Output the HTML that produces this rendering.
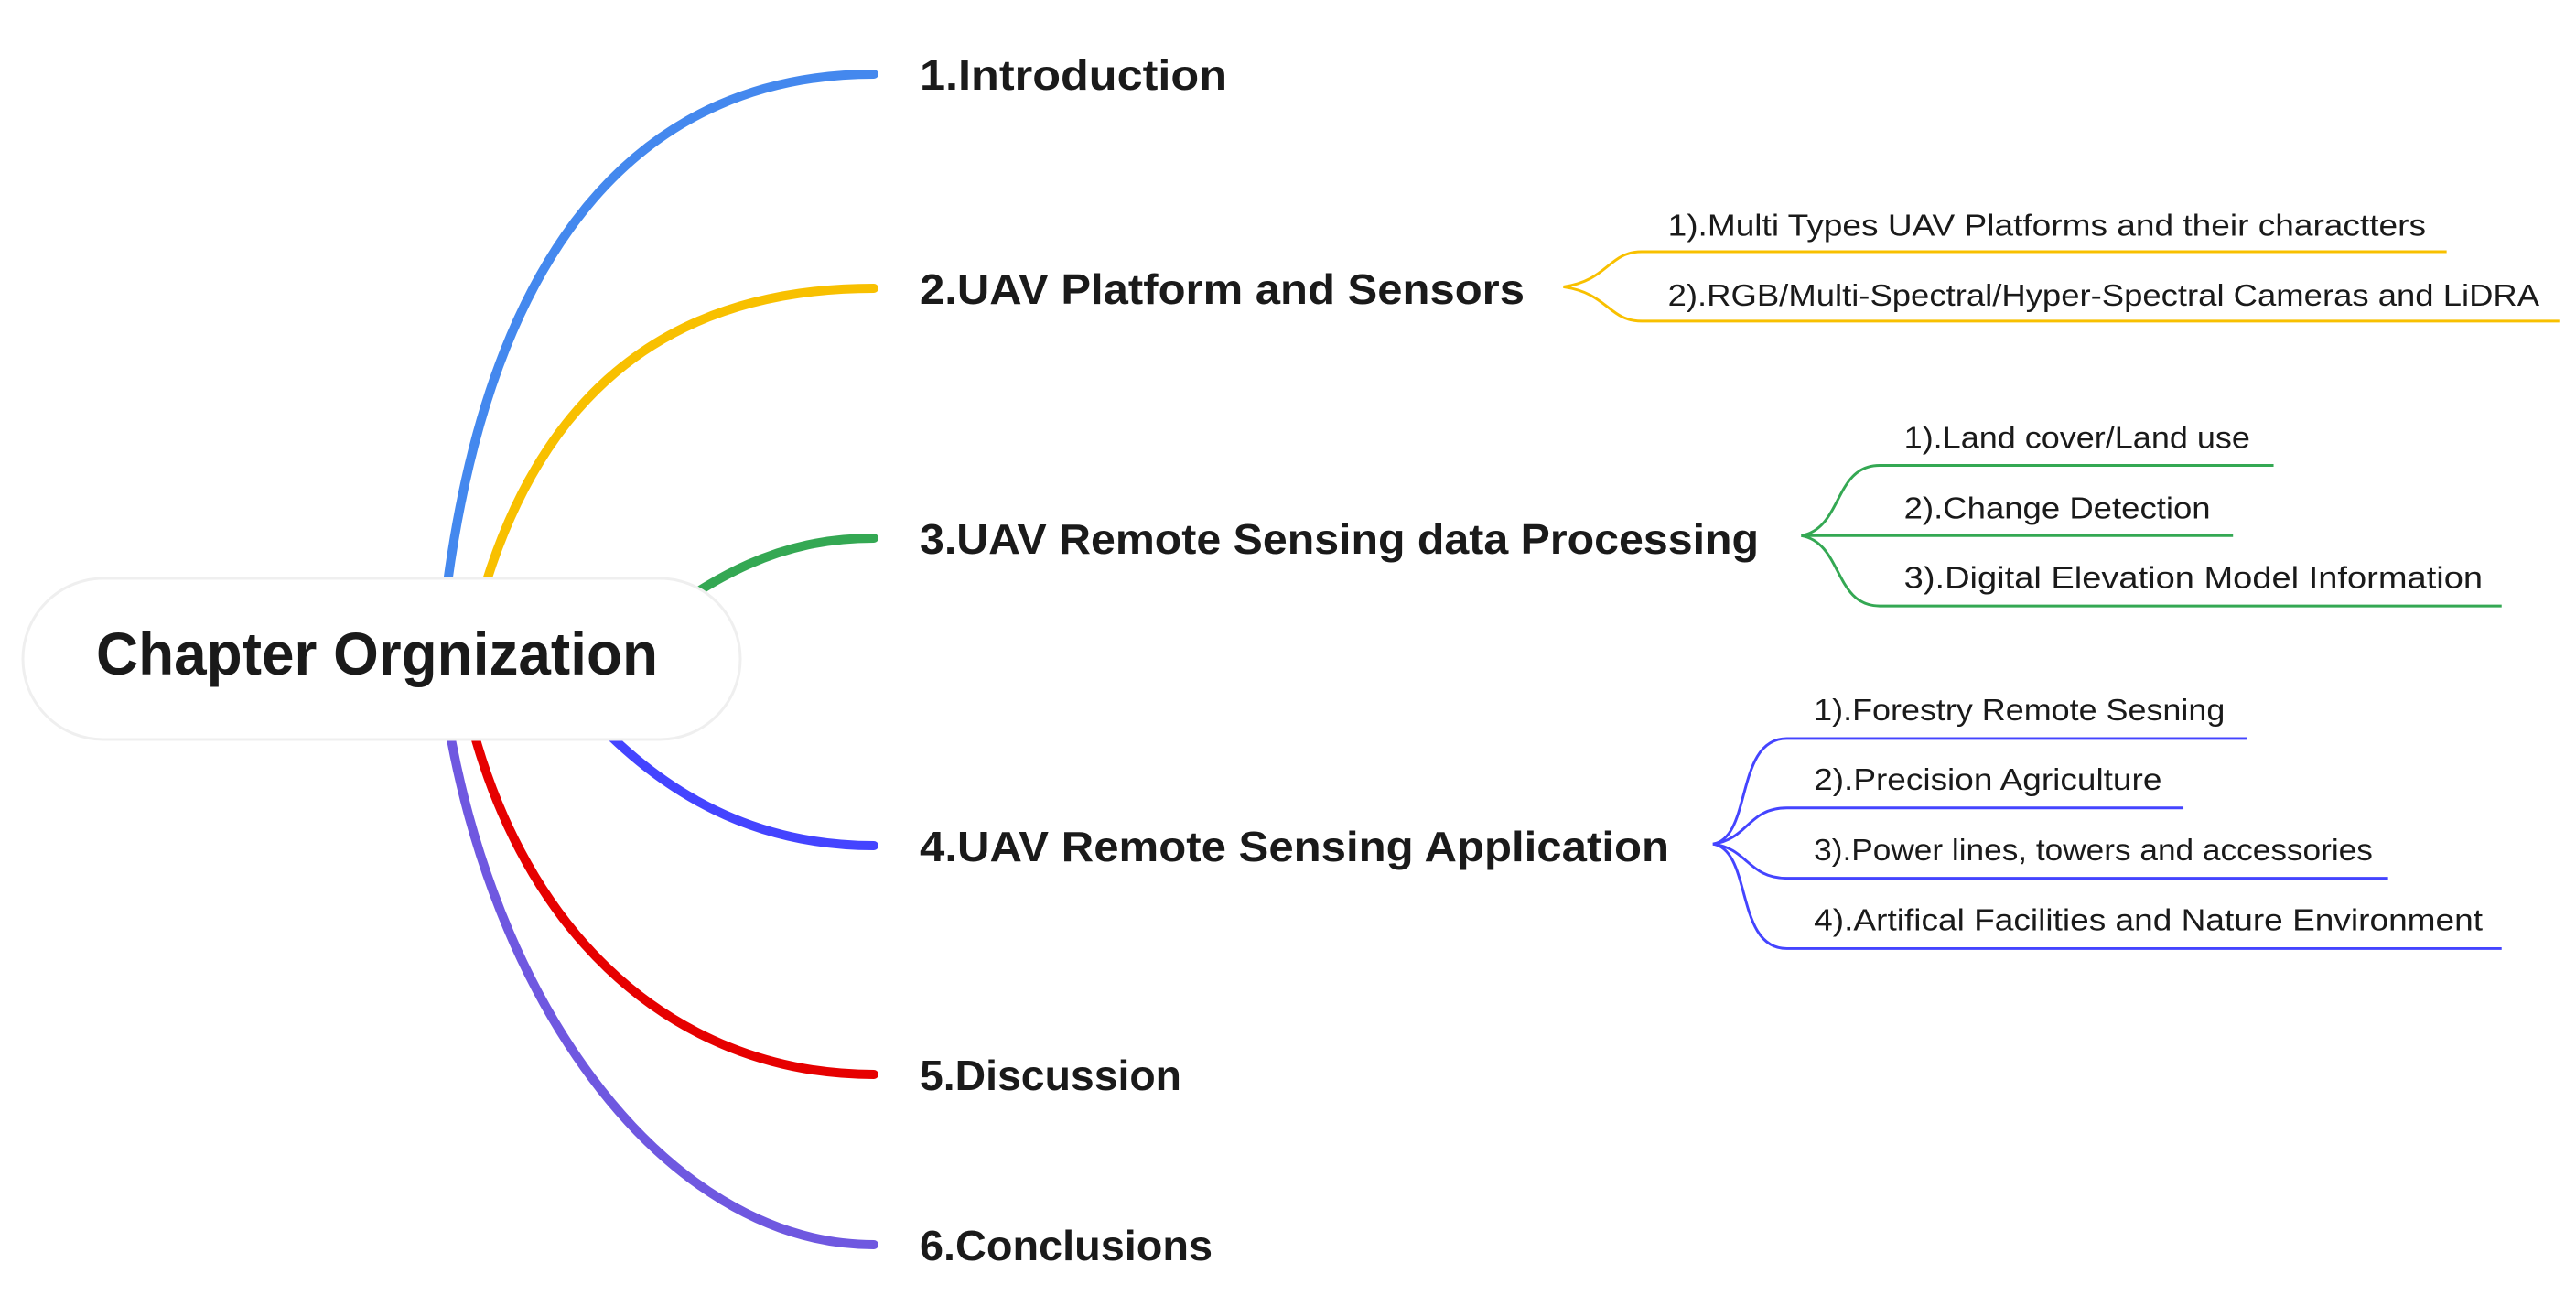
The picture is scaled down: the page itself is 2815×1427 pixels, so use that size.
<!DOCTYPE html>
<html><head><meta charset="utf-8"><style>html,body{margin:0;padding:0;background:#fff}svg{display:block}</style></head><body>
<svg width="2815" height="1427" viewBox="0 0 2815 1427" xmlns="http://www.w3.org/2000/svg" font-family="Liberation Sans, sans-serif">
<g fill="none" stroke-linecap="round">
<path d="M480 720 C520 250 715 81 955 81" stroke="#4488ee" stroke-width="10"/>
<path d="M510 720 C570 425 735 315 955 315" stroke="#f8c000" stroke-width="10"/>
<path d="M700 690 C780 630 850 588 955 588" stroke="#34a853" stroke-width="10"/>
<path d="M600 728 C700 860 815 924 955 924" stroke="#4444ff" stroke-width="10"/>
<path d="M500 720 C550 1015 735 1174 955 1174" stroke="#e60000" stroke-width="10"/>
<path d="M480 720 C520 1085 725 1360 955 1360" stroke="#6f58e0" stroke-width="10"/>
</g>
<rect x="25" y="632" width="784" height="176" rx="88" fill="#fff" stroke="#efefef" stroke-width="3"/>
<text x="105" y="737" font-size="66" font-weight="bold" fill="#1a1a1a" textLength="614" lengthAdjust="spacingAndGlyphs">Chapter Orgnization</text>
<g font-size="46" font-weight="bold" fill="#1a1a1a">
<text x="1005" y="98" textLength="336" lengthAdjust="spacingAndGlyphs">1.Introduction</text>
<text x="1005" y="332" textLength="661" lengthAdjust="spacingAndGlyphs">2.UAV Platform and Sensors</text>
<text x="1005" y="605" textLength="917" lengthAdjust="spacingAndGlyphs">3.UAV Remote Sensing data Processing</text>
<text x="1005" y="941" textLength="819" lengthAdjust="spacingAndGlyphs">4.UAV Remote Sensing Application</text>
<text x="1005" y="1191" textLength="286" lengthAdjust="spacingAndGlyphs">5.Discussion</text>
<text x="1005" y="1377" textLength="320" lengthAdjust="spacingAndGlyphs">6.Conclusions</text>
</g>
<g transform="matrix(0.985,0,0,0.985,24,1.2)">
<g fill="none" stroke-width="3">
<path d="M1710 317 C1760 310 1760 278 1797 278 L2690 278" stroke="#f8c000"/>
<path d="M1710 317 C1760 324 1760 355 1797 355 L2815 355" stroke="#f8c000"/>
<path d="M1974 593 C2020 585 2010 515 2061 515 L2498 515" stroke="#34a853"/>
<path d="M1974 593 L2453 593" stroke="#34a853"/>
<path d="M1974 593 C2020 601 2010 671 2061 671 L2751 671" stroke="#34a853"/>
<path d="M1876 935 C1920 928 1900 818 1958 818 L2468 818" stroke="#4444ff"/>
<path d="M1876 935 C1915 930 1915 895 1958 895 L2398 895" stroke="#4444ff"/>
<path d="M1876 935 C1915 940 1915 973 1958 973 L2625 973" stroke="#4444ff"/>
<path d="M1876 935 C1920 942 1900 1051 1958 1051 L2751 1051" stroke="#4444ff"/>
</g>
<g font-size="34" fill="#1a1a1a">
<text x="1826" y="260" textLength="841" lengthAdjust="spacingAndGlyphs">1).Multi Types UAV Platforms and their charactters</text>
<text x="1826" y="338" textLength="967" lengthAdjust="spacingAndGlyphs">2).RGB/Multi-Spectral/Hyper-Spectral Cameras and LiDRA</text>
<text x="2088" y="496" textLength="384" lengthAdjust="spacingAndGlyphs">1).Land cover/Land use</text>
<text x="2088" y="574" textLength="340" lengthAdjust="spacingAndGlyphs">2).Change Detection</text>
<text x="2088" y="651" textLength="642" lengthAdjust="spacingAndGlyphs">3).Digital Elevation Model Information</text>
<text x="1988" y="798" textLength="456" lengthAdjust="spacingAndGlyphs">1).Forestry Remote Sesning</text>
<text x="1988" y="875" textLength="386" lengthAdjust="spacingAndGlyphs">2).Precision Agriculture</text>
<text x="1988" y="953" textLength="620" lengthAdjust="spacingAndGlyphs">3).Power lines, towers and accessories</text>
<text x="1988" y="1031" textLength="742" lengthAdjust="spacingAndGlyphs">4).Artifical Facilities and Nature Environment</text>
</g>
</g>
</svg>
</body></html>
